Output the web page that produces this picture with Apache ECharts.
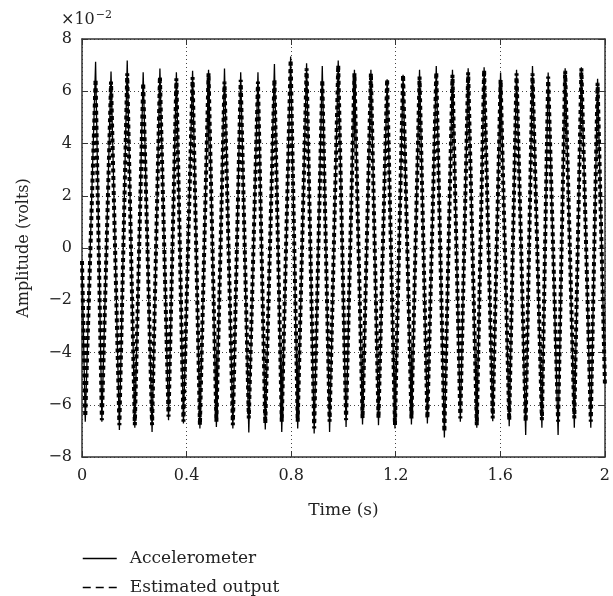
<!DOCTYPE html>
<html>
<head>
<meta charset="utf-8">
<script src="https://cdn.jsdelivr.net/npm/echarts@6/dist/echarts.min.js"></script>
<style>
  html, body { margin: 0; padding: 0; background: #fff; }
  #chart { width: 613px; height: 596px; }
</style>
</head>
<body>
<div id="chart"></div>
<script>
// Amplitude values are in units of 10^-2 volts.
const startTime = 0;
const endTime = 2;
const accStart = -0.5;
const accEnd = -5.2;
const estStart = -0.5;
const estEnd = -5.2;

// Times of the troughs and crests of each oscillation (s)
const troughTimes = [0.0125, 0.076, 0.143, 0.202, 0.268, 0.331, 0.388, 0.451, 0.514, 0.577,
  0.638, 0.701, 0.764, 0.825, 0.888, 0.947, 1.010, 1.073, 1.134, 1.197,
  1.260, 1.321, 1.386, 1.447, 1.510, 1.571, 1.634, 1.697, 1.759, 1.821,
  1.883, 1.946];
const crestTimes = [0.052, 0.111, 0.173, 0.234, 0.298, 0.361, 0.423, 0.484, 0.545, 0.607,
  0.673, 0.736, 0.798, 0.859, 0.919, 0.980, 1.042, 1.105, 1.167, 1.228,
  1.291, 1.355, 1.417, 1.477, 1.538, 1.601, 1.662, 1.723, 1.783, 1.848,
  1.910, 1.972];

// Accelerometer measurement
const accTroughs = [-6.65, -6.65, -6.97, -6.88, -7.04, -6.59, -6.72, -6.91, -6.85, -6.91,
  -7.06, -6.95, -7.04, -6.91, -7.10, -7.04, -6.85, -6.76, -6.78, -6.91,
  -6.76, -6.72, -7.25, -6.65, -6.88, -6.63, -6.82, -7.16, -6.88, -7.16,
  -6.88, -6.88];
const accCrests = [7.13, 6.76, 7.18, 6.73, 6.87, 6.73, 6.78, 6.82, 6.87, 6.73,
  6.73, 7.04, 7.33, 7.07, 6.97, 7.18, 6.82, 6.82, 6.46, 6.63,
  6.82, 6.97, 6.82, 6.88, 6.92, 6.72, 6.82, 6.97, 6.72, 6.88,
  6.92, 6.48];

// Estimated output
const estTroughs = [-6.46, -6.59, -6.78, -6.78, -6.78, -6.46, -6.65, -6.78, -6.65, -6.78,
  -6.52, -6.72, -6.65, -6.65, -6.91, -6.65, -6.59, -6.52, -6.52, -6.78,
  -6.52, -6.52, -7.04, -6.52, -6.78, -6.52, -6.59, -6.65, -6.59, -6.65,
  -6.52, -6.65];
const estCrests = [6.46, 6.37, 6.69, 6.32, 6.56, 6.50, 6.54, 6.69, 6.37, 6.44,
  6.37, 6.46, 7.20, 6.88, 6.44, 7.00, 6.69, 6.69, 6.46, 6.63,
  6.56, 6.73, 6.63, 6.73, 6.82, 6.44, 6.69, 6.69, 6.56, 6.78,
  6.88, 6.32];

const xTicks = [0, 0.4, 0.8, 1.2, 1.6, 2];
const yTicks = [-8, -6, -4, -2, 0, 2, 4, 6, 8];

// Merge troughs and crests into one time-ordered trace
function trace(first, troughs, crests, last) {
  const pts = [[startTime, first]];
  for (let i = 0; i < troughTimes.length; i++) {
    pts.push([troughTimes[i], troughs[i]]);
    pts.push([crestTimes[i], crests[i]]);
  }
  pts.push([endTime, last]);
  return pts;
}

const FONT = 'DejaVu Serif';
const AXIS = '#333';
const GRID = { color: '#444', width: 1, type: [1, 3] };

function tickText(v) {
  const r = Math.round(v * 10) / 10;
  return r < 0 ? '\u2212' + Math.abs(r) : String(r);
}

const hiddenSymbol = { color: 'rgba(0,0,0,0)', opacity: 0, borderWidth: 0 };

const chart = echarts.init(document.getElementById('chart'), null, { renderer: 'canvas' });
chart.setOption({
  animation: false,
  backgroundColor: '#fff',
  grid: { left: 82, right: 3, top: 39, bottom: 139, containLabel: false },
  xAxis: [{
    type: 'value', min: xTicks[0], max: xTicks[xTicks.length - 1], interval: 0.4,
    name: 'Time (s)', nameLocation: 'middle', nameGap: 45,
    nameTextStyle: { fontFamily: FONT, fontSize: 17, color: '#222' },
    axisLine: { show: true, onZero: false, lineStyle: { color: AXIS, width: 1.5 } },
    axisTick: { show: true, inside: true, length: 6, lineStyle: { color: AXIS } },
    axisLabel: { fontFamily: FONT, fontSize: 16, color: '#222', margin: 11, formatter: tickText },
    splitLine: { show: true, lineStyle: GRID }
  }, {
    type: 'value', position: 'top', min: xTicks[0], max: xTicks[xTicks.length - 1], interval: 0.4,
    axisLine: { show: true, onZero: false, lineStyle: { color: AXIS, width: 1.5 } },
    axisTick: { show: true, inside: true, length: 6, lineStyle: { color: AXIS } },
    axisLabel: { show: false }, splitLine: { show: false }
  }],
  yAxis: [{
    type: 'value', min: yTicks[0], max: yTicks[yTicks.length - 1], interval: 2,
    name: 'Amplitude (volts)', nameLocation: 'middle', nameGap: 50,
    nameTextStyle: { fontFamily: FONT, fontSize: 16, color: '#222' },
    axisLine: { show: true, onZero: false, lineStyle: { color: AXIS, width: 1.5 } },
    axisTick: { show: true, inside: true, length: 6, lineStyle: { color: AXIS } },
    axisLabel: { fontFamily: FONT, fontSize: 16, color: '#222', margin: 10, formatter: tickText },
    splitLine: { show: true, lineStyle: GRID }
  }, {
    type: 'value', position: 'right', min: yTicks[0], max: yTicks[yTicks.length - 1], interval: 2,
    axisLine: { show: true, onZero: false, lineStyle: { color: AXIS, width: 1.5 } },
    axisTick: { show: true, inside: true, length: 6, lineStyle: { color: AXIS } },
    axisLabel: { show: false }, splitLine: { show: false }
  }],
  legend: {
    orient: 'vertical', left: 82, top: 550, padding: 0,
    itemWidth: 34, itemHeight: 14, itemGap: 12,
    textStyle: { fontFamily: FONT, fontSize: 17, color: '#222', lineHeight: 14, padding: [0, 0, 0, 8] },
    itemStyle: hiddenSymbol,
    data: [
      { name: 'Accelerometer', itemStyle: hiddenSymbol,
        lineStyle: { color: '#000', width: 1.5, type: 'solid' } },
      { name: 'Estimated output', itemStyle: hiddenSymbol,
        lineStyle: { color: '#000', width: 1.5, type: [8, 5] } }
    ]
  },
  graphic: [{
    type: 'text', left: 61, top: 10,
    style: {
      text: '{a|\u00d710}{b|\u22122}',
      rich: {
        a: { fontFamily: FONT, fontSize: 16, fill: '#222', verticalAlign: 'bottom', lineHeight: 18 },
        b: { fontFamily: FONT, fontSize: 11, fill: '#222', verticalAlign: 'top', lineHeight: 18, padding: [0, 0, 8, 1] }
      }
    }
  }],
  series: [{
    name: 'Estimated output', type: 'line', xAxisIndex: 0, yAxisIndex: 0,
    showSymbol: false, symbol: 'none',
    data: trace(estStart, estTroughs, estCrests, estEnd),
    lineStyle: { color: '#000', width: 4, type: [4, 3.5], cap: 'butt' },
    itemStyle: { color: '#000' },
    z: 2
  }, {
    name: 'Accelerometer', type: 'line', xAxisIndex: 0, yAxisIndex: 0,
    showSymbol: false, symbol: 'none',
    data: trace(accStart, accTroughs, accCrests, accEnd),
    lineStyle: { color: '#000', width: 1.3, type: 'solid' },
    itemStyle: { color: '#000' },
    z: 3
  }]
});
</script>
</body>
</html>
